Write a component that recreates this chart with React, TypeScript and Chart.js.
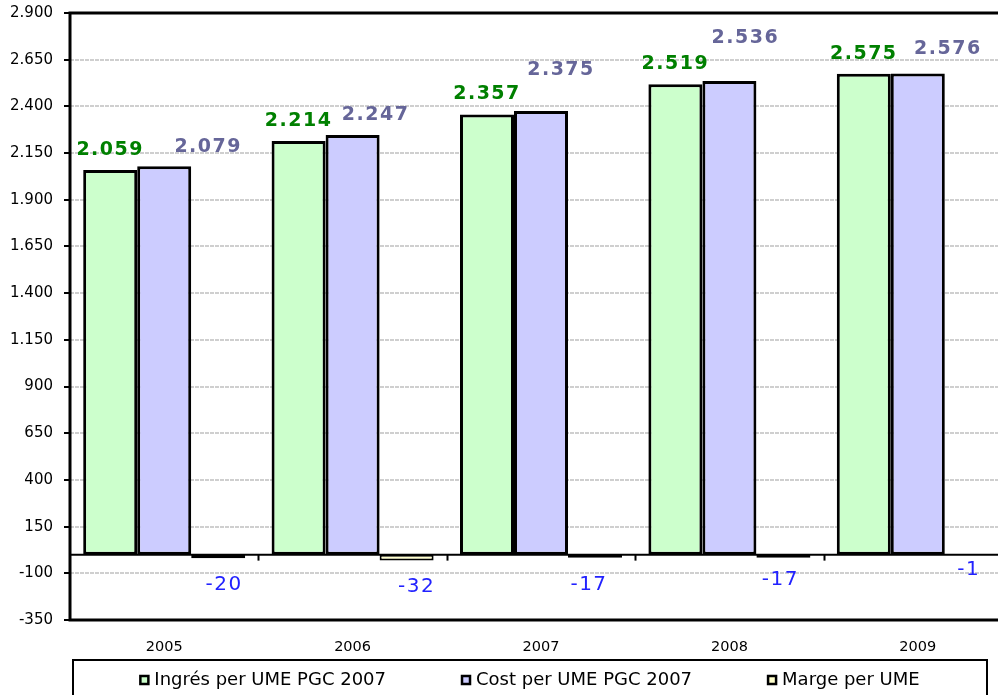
import React, { useEffect, useRef } from 'react';
import { Chart, registerables } from 'chart.js';

Chart.register(...registerables);

// ---- data ----
const categories = ['2005', '2006', '2007', '2008', '2009'];
const ingres = [2059, 2214, 2357, 2519, 2575];
const cost = [2079, 2247, 2375, 2536, 2576];
const marge = [-20, -32, -17, -17, -1];
const yTicks = [-350, -100, 150, 400, 650, 900, 1150, 1400, 1650, 1900, 2150, 2400, 2650, 2900];
const seriesNames = ['Ingrés per UME PGC 2007', 'Cost per UME PGC 2007', 'Marge per UME'];

// ---- styles ----
const fills = ['#CCFFCC', '#CCCCFF', '#FFFFCC'];
const borderWidths = [3, 3, 2];
const labelColors = ['#008000', '#666699', '#2222FF'];
const labelFonts = ['bold 19px "DejaVu Sans"', 'bold 19px "DejaVu Sans"', '20px "DejaVu Sans"'];
// label offsets relative to the bar end (style, not data)
const labelDx = [
  [0, 0, 0, 0, 0],
  [44, 23, 20, 16, 30],
  [6, 10, -6, -3, -3],
];
const labelDy = [
  [20, 20, 20, 20, 20],
  [19, 20, 41, 43, 24],
  [26, 26, 27, 22, 15],
];

const fmt = (v: number) => {
  const s = Math.abs(Math.round(v)).toString().replace(/\B(?=(\d{3})+(?!\d))/g, '.');
  return (v < 0 ? '-' : '') + s;
};

const overlayPlugin = {
  id: 'overlay',
  afterDatasetsDraw(chart: any) {
    const { ctx, chartArea, scales } = chart;
    const { left, right, top, bottom } = chartArea;
    const yS = scales.y;
    const zeroY = yS.getPixelForValue(0);
    ctx.save();
    ctx.strokeStyle = '#000';
    // zero (category) axis line
    ctx.lineWidth = 2;
    ctx.beginPath();
    ctx.moveTo(left, zeroY);
    ctx.lineTo(right, zeroY);
    ctx.stroke();
    // category boundary ticks
    const cw = (right - left) / categories.length;
    for (let i = 1; i <= categories.length; i++) {
      const xx = Math.round(left + cw * i) + 0.5;
      ctx.beginPath();
      ctx.moveTo(xx, zeroY);
      ctx.lineTo(xx, zeroY + 6);
      ctx.stroke();
    }
    // plot frame
    ctx.lineWidth = 3;
    ctx.beginPath();
    ctx.moveTo(right + 5, top);
    ctx.lineTo(left, top);
    ctx.lineTo(left, bottom);
    ctx.lineTo(right + 5, bottom);
    ctx.stroke();

    // data labels
    ctx.textAlign = 'center';
    ctx.textBaseline = 'middle';
    chart.data.datasets.forEach((ds: any, d: number) => {
      const meta = chart.getDatasetMeta(d);
      meta.data.forEach((bar: any, i: number) => {
        const v = ds.data[i];
        ctx.font = labelFonts[d];
        ctx.fillStyle = labelColors[d];
        try { (ctx as any).letterSpacing = '1.5px'; } catch (e) {}
        const xx = bar.x + labelDx[d][i];
        const yy = v >= 0 ? bar.y - labelDy[d][i] : bar.y + labelDy[d][i];
        ctx.fillText(fmt(v), xx, yy);
      });
    });
    ctx.restore();
  },
  afterDraw(chart: any) {
    const { ctx, height } = chart;
    ctx.save();
    // legend frame
    const lx0 = 73, lx1 = 987, ly0 = 660;
    ctx.strokeStyle = '#000';
    ctx.lineWidth = 2;
    ctx.beginPath();
    ctx.moveTo(lx0, height + 5);
    ctx.lineTo(lx0, ly0);
    ctx.lineTo(lx1, ly0);
    ctx.lineTo(lx1, height + 5);
    ctx.stroke();
    // legend items
    ctx.font = '18px "DejaVu Sans"';
    ctx.textBaseline = 'middle';
    ctx.textAlign = 'left';
    const gap = 76, box = 8, boxGap = 6;
    const widths = seriesNames.map((n) => ctx.measureText(n).width);
    const total = widths.reduce((a, w) => a + box + boxGap + w, 0) + gap * (seriesNames.length - 1);
    let x = (lx0 + lx1) / 2 - total / 2;
    const cy = 680;
    seriesNames.forEach((n, i) => {
      ctx.fillStyle = fills[i];
      ctx.fillRect(x, cy - box / 2, box, box);
      ctx.lineWidth = 2.5;
      ctx.strokeStyle = '#000';
      ctx.strokeRect(x, cy - box / 2, box, box);
      ctx.fillStyle = '#000';
      ctx.fillText(n, x + box + boxGap, cy);
      x += box + boxGap + widths[i] + gap;
    });
    ctx.restore();
  },
};

export default function App() {
  const ref = useRef<HTMLCanvasElement>(null);
  useEffect(() => {
    if (!ref.current) return;
    const seriesData = [ingres, cost, marge];
    const chart = new Chart(ref.current, {
      type: 'bar',
      data: {
        labels: categories,
        datasets: seriesData.map((data, i) => ({
          label: seriesNames[i],
          data,
          backgroundColor: fills[i],
          borderColor: '#000',
          borderWidth: borderWidths[i],
          borderSkipped: false,
          categoryPercentage: 0.86,
          barPercentage: 1,
        })),
      },
      options: {
        responsive: false,
        animation: false,
        layout: { padding: { top: 13, right: 48, left: 0, bottom: 0 } },
        plugins: { legend: { display: false }, tooltip: { enabled: false } },
        scales: {
          x: {
            grid: { display: false, drawTicks: false },
            border: { display: false },
            ticks: {
              font: { family: 'DejaVu Sans', size: 14.5 },
              color: '#000',
              padding: 19,
              maxRotation: 0,
            },
            afterFit: (s: any) => { s.height = 75; s.paddingLeft = 0; s.paddingRight = 0; },
          },
          y: {
            min: -350,
            max: 2900,
            afterBuildTicks: (s: any) => { s.ticks = yTicks.map((v) => ({ value: v })); },
            afterFit: (s: any) => { s.width = 70; s.paddingTop = 0; s.paddingBottom = 0; },
            grid: {
              color: '#cfcfcf',
              lineWidth: 2,
              tickColor: '#000',
              tickLength: 6,
              tickWidth: 2,
              tickBorderDash: [],
            },
            border: { display: false, dash: [4, 1] },
            ticks: {
              font: { family: 'DejaVu Sans', size: 15 },
              color: '#000',
              padding: 11,
              callback: (v: any) => fmt(Number(v)),
            },
          },
        },
      },
      plugins: [overlayPlugin],
    });
    return () => chart.destroy();
  }, []);
  return (
    <div style={{ position: 'absolute', left: 0, top: 0, width: 998, height: 695, overflow: 'hidden', background: '#fff' }}>
      <canvas ref={ref} width={1060} height={695} style={{ display: 'block' }} />
    </div>
  );
}
